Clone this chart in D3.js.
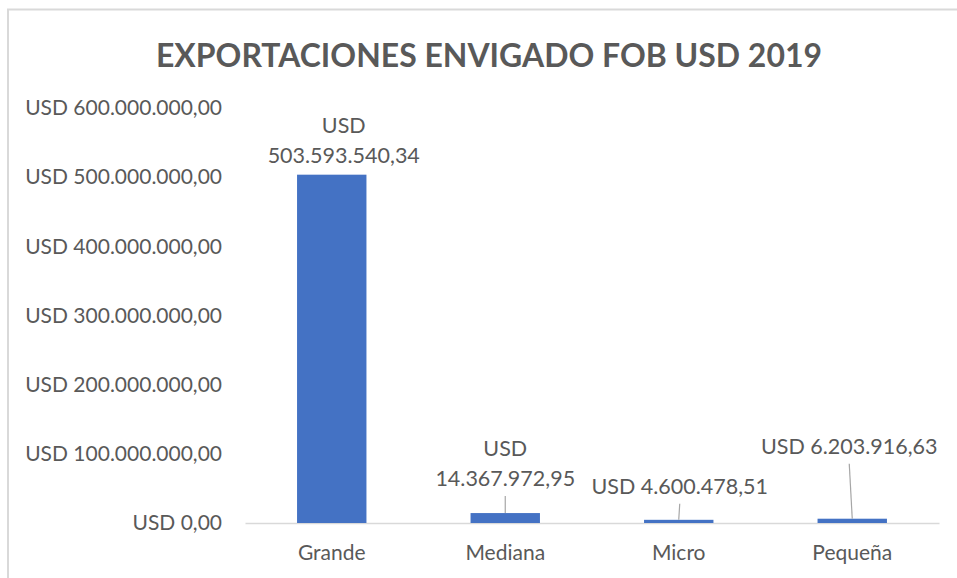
<!DOCTYPE html>
<html>
<head>
<meta charset="utf-8">
<script src="https://cdn.jsdelivr.net/npm/d3@7/dist/d3.min.js"></script>
<style>
  html, body { margin: 0; padding: 0; background: #fff; }
  svg { display: block; }
  text { font-family: Lato, "Open Sans", sans-serif; fill: #595959; }
</style>
</head>
<body>
<svg id="chart" width="957" height="578"></svg>
<script>
// ---- data ----
const title = "EXPORTACIONES ENVIGADO FOB USD 2019";
const categories = ["Grande", "Mediana", "Micro", "Pequeña"];
const values = [503593540.34, 14367972.95, 4600478.51, 6203916.63];
const yTickValues = [0, 100000000, 200000000, 300000000, 400000000, 500000000, 600000000];
const yMax = 600000000;

// label layout (Excel manual label placement): wrap flag + offsets from bar center / bar top
const labelWrap = [true, true, false, false];
const labelDx = [12, 0, 1, -3];
const labelLift = [12, 27, 26, 65];   // baseline of last line above bar top
const leaderLines = [false, true, true, true];

// ---- setup ----
const svg = d3.select("#chart");
const W = 957, H = 578;
const margin = { left: 245, right: 18, top: 108, bottom: 55 };

const locale = d3.formatLocale({ decimal: ",", thousands: ".", grouping: [3], currency: ["USD ", ""] });
const fmt = locale.format("$,.2f");

const x = d3.scaleBand()
  .domain(categories)
  .range([margin.left, W - margin.right])
  .paddingInner(0.6)
  .paddingOuter(0.3);

const y = d3.scaleLinear()
  .domain([0, yMax])
  .range([H - margin.bottom, margin.top]);

// chart border (only top/left visible in the frame)
svg.append("rect")
  .attr("x", 8).attr("y", 9.5)
  .attr("width", 1000).attr("height", 700)
  .attr("fill", "none")
  .attr("stroke", "#D9D9D9")
  .attr("stroke-width", 2);

// title
const t = svg.append("text")
  .attr("x", 489).attr("y", 67)
  .attr("text-anchor", "middle")
  .style("font-size", "33px")
  .style("font-weight", "bold")
  .text(title);
t.attr("textLength", 666).attr("lengthAdjust", "spacingAndGlyphs");

// y axis labels (no axis line, no gridlines)
const yAxis = d3.axisLeft(y)
  .tickValues(yTickValues)
  .tickFormat(fmt)
  .tickSize(0)
  .tickPadding(0);
const yg = svg.append("g")
  .attr("transform", `translate(${margin.left - 23},0)`)
  .call(yAxis);
yg.select(".domain").remove();
yg.selectAll("text")
  .attr("fill", "#595959")
  .style("font-family", "Lato, sans-serif")
  .style("font-size", "21px");

// x axis
const xAxis = d3.axisBottom(x).tickSize(0).tickPadding(22);
const xg = svg.append("g")
  .attr("transform", `translate(0,${y(0)})`)
  .call(xAxis);
xg.select(".domain")
  .attr("stroke", "#D9D9D9")
  .attr("stroke-width", 1.5);
xg.selectAll("text")
  .attr("fill", "#595959")
  .style("font-family", "Lato, sans-serif")
  .style("font-size", "21px");

// bars
svg.append("g").selectAll("rect")
  .data(values)
  .join("rect")
  .attr("x", (d, i) => x(categories[i]))
  .attr("y", d => y(d))
  .attr("width", x.bandwidth())
  .attr("height", d => y(0) - y(d))
  .attr("fill", "#4472C4");

// data labels
const lg = svg.append("g");
values.forEach((v, i) => {
  const cx = x(categories[i]) + x.bandwidth() / 2;
  const top = y(v);
  const lx = cx + labelDx[i];
  const base = top - labelLift[i];
  const s = fmt(v);
  const lines = labelWrap[i] ? [s.slice(0, 3), s.slice(4)] : [s];
  const txt = lg.append("text")
    .attr("text-anchor", "middle")
    .style("font-size", "21.5px");
  lines.forEach((ln, k) => {
    txt.append("tspan")
      .attr("x", lx)
      .attr("y", base - (lines.length - 1 - k) * 30)
      .text(ln);
  });
  if (leaderLines[i]) {
    lg.append("line")
      .attr("x1", lx).attr("y1", base + 10)
      .attr("x2", cx).attr("y2", top)
      .attr("stroke", "#A6A6A6")
      .attr("stroke-width", 1.2);
  }
});
</script>
</body>
</html>
